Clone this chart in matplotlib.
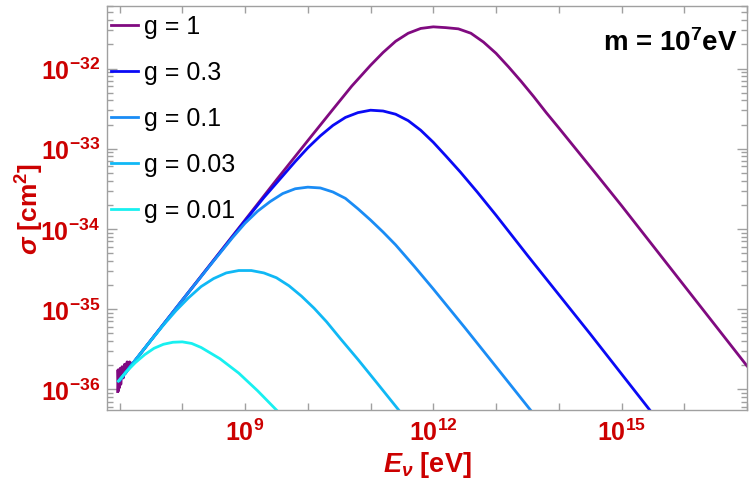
"""
Cross section vs neutrino energy for several couplings, m = 1e7 eV.
"""
import matplotlib
matplotlib.use("Agg")
import matplotlib.pyplot as plt
import numpy as np
from matplotlib.ticker import LogLocator, NullLocator, NullFormatter

plt.rcParams['font.family'] = ['Liberation Sans', 'DejaVu Sans']
plt.rcParams['mathtext.fontset'] = 'custom'
plt.rcParams['mathtext.rm'] = 'Liberation Sans:bold'
plt.rcParams['mathtext.bf'] = 'Liberation Sans:bold'
plt.rcParams['mathtext.it'] = 'Liberation Sans:italic:bold'

# curves, stored as log10(E / eV) and log10(sigma / cm^2)
logE_g1 = [6.97, 6.975, 6.985, 6.99, 7.0, 7.01, 7.02, 7.04, 7.06, 7.08, 7.10, 7.12, 7.14, 7.16, 7.2,
           7.5, 8.0, 8.5, 9.0, 9.5, 10.0, 10.4, 10.7, 11.0, 11.2, 11.4, 11.6, 11.8, 12.0,
           12.2, 12.4, 12.6, 12.8, 13.0, 13.2, 13.4, 13.6, 13.8, 14.0, 14.3, 14.6, 15.0,
           15.46, 16.0, 16.5, 17.0]
logS_g1 = [-36.03, -35.76, -36.02, -35.78, -35.98, -35.74, -35.94, -35.72, -35.86, -35.69, -35.80,
           -35.66, -35.74, -35.66, -35.69,
           -35.39, -34.89, -34.39, -33.89, -33.39, -32.90, -32.51, -32.22, -31.96, -31.80, -31.66,
           -31.56, -31.50, -31.48,
           -31.49, -31.505, -31.56, -31.67, -31.81, -31.98, -32.16, -32.35, -32.55, -32.74, -33.03,
           -33.32, -33.71, -34.17, -34.71, -35.21, -35.71]

logE_g03 = [7.0, 8.0, 9.0, 9.3, 9.6, 9.8, 10.0, 10.2, 10.4, 10.6, 10.8, 11.0, 11.2, 11.4, 11.6,
            11.8, 12.0, 12.2, 12.43, 12.7, 13.0, 13.5, 14.0, 14.5, 15.0, 15.5]
logS_g03 = [-35.89, -34.89, -33.90, -33.61, -33.34, -33.16, -32.99, -32.84, -32.71, -32.61, -32.55,
            -32.52, -32.53, -32.57, -32.65, -32.77, -32.92, -33.09, -33.29, -33.54, -33.83, -34.33,
            -34.82, -35.31, -35.81, -36.31]

logE_g01 = [7.0, 8.0, 8.5, 8.8, 9.0, 9.2, 9.4, 9.6, 9.8, 10.0, 10.2, 10.4, 10.6, 10.8, 11.0,
            11.2, 11.4, 11.7, 12.0, 12.5, 13.0, 13.6]
logS_g01 = [-35.89, -34.89, -34.40, -34.11, -33.93, -33.78, -33.66, -33.56, -33.50, -33.48, -33.49,
            -33.54, -33.62, -33.75, -33.89, -34.04, -34.20, -34.47, -34.75, -35.23, -35.72, -36.31]

logE_g003 = [7.0, 7.4, 7.7, 7.9, 8.1, 8.3, 8.5, 8.7, 8.9, 9.1, 9.3, 9.5, 9.7, 9.9, 10.1, 10.3,
             10.52, 10.8, 11.1, 11.5]
logS_g003 = [-35.89, -35.49, -35.20, -35.02, -34.86, -34.72, -34.62, -34.55, -34.52, -34.52, -34.55,
             -34.61, -34.71, -34.84, -34.99, -35.16, -35.37, -35.63, -35.92, -36.31]

logE_g001 = [6.98, 7.1, 7.25, 7.4, 7.55, 7.7, 7.85, 8.0, 8.15, 8.3, 8.45, 8.6, 8.75, 8.9, 9.05,
             9.2, 9.35, 9.55]
logS_g001 = [-35.90, -35.79, -35.67, -35.57, -35.49, -35.44, -35.415, -35.41, -35.43, -35.48, -35.55,
             -35.62, -35.71, -35.80, -35.91, -36.02, -36.14, -36.30]

labels = ["g = 1", "g = 0.3", "g = 0.1", "g = 0.03", "g = 0.01"]
colors = ["#800a80", "#0a0af5", "#1a8cf5", "#10b8f5", "#18f0f0"]
curves = [(logE_g1, logS_g1), (logE_g03, logS_g03), (logE_g01, logS_g01),
          (logE_g003, logS_g003), (logE_g001, logS_g001)]

x_label_exps = [9, 12, 15]
y_label_exps = [-36, -35, -34, -33, -32]

red = "#cc0000"
grey = "#a0a0a0"

fig = plt.figure(figsize=(7.55, 4.81), dpi=100)
ax = fig.add_axes([107 / 755, 1 - 411 / 481, 640 / 755, 404 / 481])

for (lx, ly), lab, col in zip(curves, labels, colors):
    ax.plot(10.0 ** np.array(lx), 10.0 ** np.array(ly), color=col, lw=2.0,
            label=lab, solid_joinstyle='round')

ax.set_xscale('log')
ax.set_yscale('log')
ax.set_xlim(10 ** 6.8, 10 ** 17.0)
ax.set_ylim(10 ** -36.26, 10 ** -31.22)

# x: a tick at every decade, labels only every third
ax.set_xticks([10.0 ** e for e in range(7, 18)])
ax.set_xticklabels([r'$\mathbf{10^{%d}}$' % e if e in x_label_exps else '' for e in range(7, 18)])
ax.xaxis.set_minor_locator(NullLocator())

ax.set_yticks([10.0 ** e for e in y_label_exps],
              [r'$\mathbf{10^{%d}}$' % e for e in y_label_exps])
ax.yaxis.set_minor_locator(LogLocator(base=10, subs=np.arange(2, 10)))
ax.yaxis.set_minor_formatter(NullFormatter())

ax.tick_params(which='both', direction='in', top=True, right=True, colors=grey,
               labelcolor=red, labelsize=18, width=1)
ax.tick_params(axis='y', which='major', length=7, pad=5)
ax.tick_params(axis='y', which='minor', length=4)
ax.tick_params(axis='x', which='major', length=5, pad=6)
for s in ax.spines.values():
    s.set_color(grey)
    s.set_linewidth(1)

ax.set_xlabel(r'$E_\nu$ [eV]', color=red, fontsize=19.5, fontweight='bold', labelpad=3)
ax.set_ylabel(r'$\sigma$ [cm$^2$]', color=red, fontsize=19, fontweight='bold', labelpad=-4)

ax.text(0.986, 0.91, r'm = 10$^7$eV', transform=ax.transAxes, ha='right', va='center',
        fontsize=20, fontweight='bold', color='black')

ax.legend(loc='upper left', frameon=False, fontsize=18, handlelength=1.08,
          handletextpad=0.25, labelspacing=0.88, borderaxespad=0.0, borderpad=0.25,
          bbox_to_anchor=(-0.004, 0.995))

fig.savefig("out.png", dpi=100)
